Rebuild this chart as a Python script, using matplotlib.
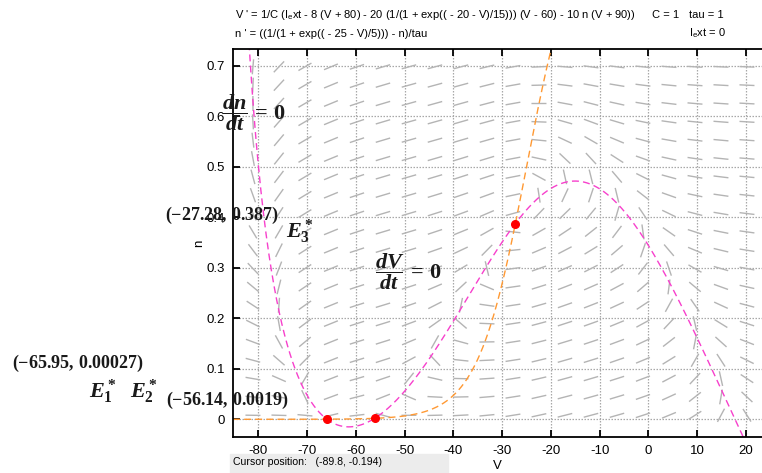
import numpy as np
import matplotlib
matplotlib.use("Agg")
import matplotlib.pyplot as plt
from matplotlib.collections import LineCollection

plt.rcParams['font.family'] = ['Liberation Sans', 'DejaVu Sans']
plt.rcParams['axes.unicode_minus'] = False
plt.rcParams['mathtext.fontset'] = 'custom'
plt.rcParams['mathtext.rm'] = 'Liberation Serif:bold'
plt.rcParams['mathtext.it'] = 'Liberation Serif:italic:bold'
plt.rcParams['mathtext.bf'] = 'Liberation Serif:bold'
plt.rcParams['mathtext.sf'] = 'Liberation Sans'

# model parameters as printed on the chart
C = 1
tau = 1
I_ext = 0
gL, EL = 8, -80
gNa, ENa, V_half_m, k_m = 20, 60, -20, 15
gK, EK = 10, -90
V_half_n, k_n = -25, 5

# equilibria
eq_V = [-65.95, -56.14, -27.28]
eq_n = [0.00027, 0.0019, 0.387]

x_ticks = [-80, -70, -60, -50, -40, -30, -20, -10, 0, 10, 20]
y_ticks = [0, 0.1, 0.2, 0.3, 0.4, 0.5, 0.6, 0.7]
y_ticklabels = ["0", "0.1", "0.2", "0.3", "0.4", "0.5", "0.6", "0.7"]

xlim = (-85.19, 23.28)
ylim = (-0.035, 0.7333)


def m_inf(V):
    return 1 / (1 + np.exp((V_half_m - V) / k_m))


def n_inf(V):
    return 1 / (1 + np.exp((V_half_n - V) / k_n))


def dVdt(V, n):
    return (I_ext - gL * (V - EL) - gNa * m_inf(V) * (V - ENa) - gK * n * (V - EK)) / C


def dndt(V, n):
    return (n_inf(V) - n) / tau


W, H = 762, 473
fig = plt.figure(figsize=(W / 100, H / 100), dpi=100)
ax = fig.add_axes([233 / W, (H - 437) / H, 529 / W, 388 / H])
ax.set_xlim(*xlim)
ax.set_ylim(*ylim)

# grid
ax.set_xticks(x_ticks)
ax.set_yticks(y_ticks)
ax.set_yticklabels(y_ticklabels)
ax.grid(True, color='#a8a8a8', linestyle=(0, (1.2, 1.2)), linewidth=0.9)
ax.set_axisbelow(True)

# direction field
sx = 529 / (xlim[1] - xlim[0])
sy = 388 / (ylim[1] - ylim[0])
Vg, ng = np.meshgrid(np.linspace(-81.1, 20.2, 20), np.linspace(0.008, 0.698, 20))
ux = dVdt(Vg, ng) * sx
uy = dndt(Vg, ng) * sy
norm = np.hypot(ux, uy)
half = 7.5
dx = half * ux / norm / sx
dy = half * uy / norm / sy
segs = np.stack([np.stack([Vg - dx, ng - dy], -1), np.stack([Vg + dx, ng + dy], -1)], -2)
ax.add_collection(LineCollection(segs.reshape(-1, 2, 2), colors='#b4b4b4', linewidths=1.0))

# nullclines
Vs = np.linspace(xlim[0], xlim[1], 800)
n_vnull = (I_ext - gL * (Vs - EL) - gNa * m_inf(Vs) * (Vs - ENa)) / (gK * (Vs - EK))
ax.plot(Vs, n_vnull, color='#f740cc', lw=1.0, dashes=(5, 3))
ax.plot(Vs, n_inf(Vs), color='#ff9933', lw=1.0, dashes=(5, 3))

ax.plot(eq_V, eq_n, 'o', color='#ff0000', markersize=5.5, zorder=5)

for s in ['left', 'bottom', 'top']:
    ax.spines[s].set_linewidth(1.3)
ax.spines['right'].set_visible(False)
ax.tick_params(direction='in', length=5, width=1.3, top=True, labelsize=9.5, pad=6)

ax.set_xlabel("V", fontsize=9.5, labelpad=2)
ax.set_ylabel("n", fontsize=9.5, labelpad=1)


def px(x, y):
    return x / W, 1 - y / H


fig.text(*px(235, 15), r"V ' = 1/C (I$_\mathsf{e}$xt - 8 (V + 80) - 20 (1/(1 + exp(( - 20 - V)/15))) (V - 60) - 10 n (V + 90))",
         fontsize=8.0, va='center', ha='left')
fig.text(*px(235, 34), "n ' = ((1/(1 + exp(( - 25 - V)/5))) - n)/tau", fontsize=8.0, va='center', ha='left')
fig.text(*px(652, 15), "C = 1", fontsize=8.0, va='center', ha='left')
fig.text(*px(689, 15), "tau = 1", fontsize=8.0, va='center', ha='left')
fig.text(*px(689, 33), r"I$_\mathsf{e}$xt = 0", fontsize=8.0, va='center', ha='left')

ink = '#1a1a1a'
fig.text(*px(222, 113), r"$\dfrac{dn}{dt}\,=\,0$", fontsize=16, va='center', ha='left', color=ink)
fig.text(*px(375, 272), r"$\dfrac{dV}{dt}\,=\,0$", fontsize=16, va='center', ha='left', color=ink)
fig.text(*px(165, 215), r"$(-27.28,\,0.387)$", fontsize=13, va='center', ha='left', color=ink)
fig.text(*px(286, 232), r"$E_3^*$", fontsize=16, va='center', ha='left', color=ink)
fig.text(*px(12, 363), r"$(-65.95,\,0.00027)$", fontsize=13, va='center', ha='left', color=ink)
fig.text(*px(89, 392), r"$E_1^*\ \ E_2^*$", fontsize=16, va='center', ha='left', color=ink)
fig.text(*px(166, 400), r"$(-56.14,\,0.0019)$", fontsize=13, va='center', ha='left', color=ink)

# cursor position box
fig.patches.append(plt.Rectangle((230 / W, 0), 218 / W, 19 / H, transform=fig.transFigure,
                                 color='#ececec', zorder=0))
fig.text(*px(233, 462), "Cursor position:   (-89.8, -0.194)", fontsize=7.6, va='center', ha='left')

fig.savefig("out.png", dpi=100)
